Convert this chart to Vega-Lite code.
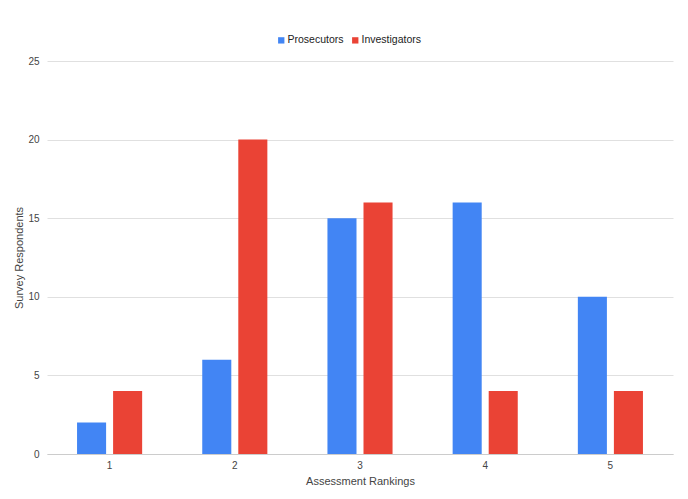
{
  "$schema": "https://vega.github.io/schema/vega-lite/v6.json",
  "autosize": {"type": "none"},
  "width": 626,
  "height": 393,
  "padding": {"left": 47, "top": 61, "right": 15, "bottom": 45},
  "background": "white",
  "data": {
    "values": [
      {"rank": "1", "group": "Prosecutors", "count": 2},
      {"rank": "1", "group": "Investigators", "count": 4},
      {"rank": "2", "group": "Prosecutors", "count": 6},
      {"rank": "2", "group": "Investigators", "count": 20},
      {"rank": "3", "group": "Prosecutors", "count": 15},
      {"rank": "3", "group": "Investigators", "count": 16},
      {"rank": "4", "group": "Prosecutors", "count": 16},
      {"rank": "4", "group": "Investigators", "count": 4},
      {"rank": "5", "group": "Prosecutors", "count": 10},
      {"rank": "5", "group": "Investigators", "count": 4}
    ]
  },
  "mark": {"type": "bar"},
  "encoding": {
    "x": {
      "field": "rank", "type": "nominal", "sort": ["1","2","3","4","5"],
      "scale": {"paddingInner": 0.48, "paddingOuter": 0.24},
      "axis": {"title": "Assessment Rankings", "labelAngle": 0, "ticks": false, "domainColor": "#cccccc", "labelColor": "#444444", "labelFontSize": 10, "labelPadding": 6, "titleColor": "#444444", "titleFontSize": 11, "titleFontWeight": "normal", "titlePadding": 5, "labelFont": "Liberation Sans", "titleFont": "Liberation Sans"}
    },
    "xOffset": {
      "field": "group", "type": "nominal", "sort": ["Prosecutors", "Investigators"],
      "scale": {"paddingInner": 0.194, "paddingOuter": 0}
    },
    "y": {
      "field": "count", "type": "quantitative",
      "scale": {"domain": [0, 25]},
      "axis": {"title": "Survey Respondents", "values": [0,5,10,15,20,25], "ticks": false, "domain": false, "gridColor": "#e0e0e0", "labelColor": "#444444", "labelFontSize": 10, "labelPadding": 8, "titleColor": "#444444", "titleFontSize": 11, "titleFontWeight": "normal", "titlePadding": 3, "labelFont": "Liberation Sans", "titleFont": "Liberation Sans"}
    },
    "color": {
      "field": "group", "type": "nominal", "sort": ["Prosecutors", "Investigators"],
      "scale": {"domain": ["Prosecutors", "Investigators"], "range": ["#4285F4", "#EA4335"]},
      "legend": {"title": null, "orient": "none", "direction": "horizontal", "legendX": 229, "legendY": -26, "symbolType": "square", "symbolSize": 40, "symbolStrokeWidth": 0, "labelFontSize": 10.5, "labelColor": "#222222", "labelFont": "Liberation Sans", "columnPadding": 6, "symbolOffset": 0, "labelOffset": 1}
    }
  },
  "config": {"view": {"stroke": null}}
}
